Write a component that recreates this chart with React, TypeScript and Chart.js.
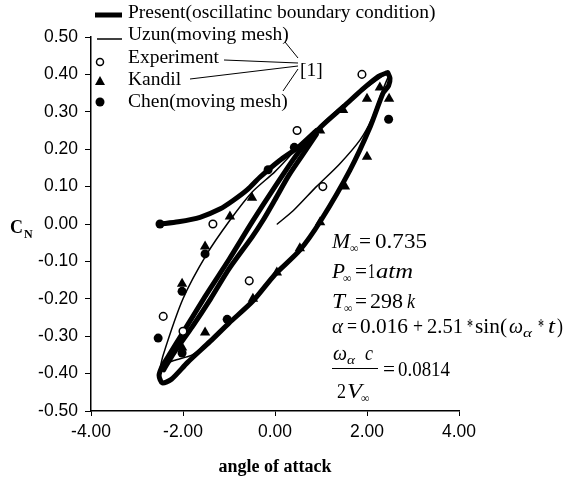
import React, { useEffect, useRef } from 'react';
import { Chart, registerables } from 'chart.js';

Chart.register(...registerables);

// ---- axis ranges / ticks ----
const xMin = -4;
const xMax = 4;
const xStep = 2;
const yMin = -0.5;
const yMax = 0.5;
const yStep = 0.1;

// ---- Present (oscillating boundary condition): thick black curves ----
const presentTransientX = [-2.5, -2.1, -1.63, -1.2, -0.91, -0.6, -0.33, 0.1, 0.5, 0.9];
const presentTransientY = [0.0, 0.006, 0.018, 0.04, 0.063, 0.092, 0.125, 0.17, 0.205, 0.25];

const presentLoopX = [2.45, 2.5, 2.47, 2.35, 2.07, 1.63, 1.0, 0.54, 0.0, -0.48, -1.0, -1.41, -1.9, -2.25, -2.45, -2.52, -2.45, -2.3, -2.0, -1.5, -1.0, -0.5, 0.0, 0.5, 1.0, 1.5, 1.9, 2.25, 2.45];
const presentLoopY = [0.405, 0.39, 0.37, 0.35, 0.26, 0.144, 0.01, -0.07, -0.135, -0.206, -0.265, -0.314, -0.37, -0.415, -0.425, -0.405, -0.38, -0.35, -0.29, -0.19, -0.095, 0.005, 0.1, 0.19, 0.26, 0.315, 0.36, 0.395, 0.405];

const presentInnerX = [-2.42, -2.2, -1.8, -1.4, -1.0, -0.5, -0.26, 0.0, 0.3, 0.6, 0.9];
const presentInnerY = [-0.39, -0.345, -0.275, -0.2, -0.12, -0.035, 0.01, 0.065, 0.13, 0.185, 0.24];

// ---- Uzun (moving mesh): thin black line ----
const uzunX = [0.05, 0.4, 0.9, 1.4, 1.85, 2.1, 2.3, 2.45, 2.5, 2.4, 2.0, 1.5, 1.0, 0.5, 0.0, -0.5, -0.98, -1.48, -2.0, -2.43, -2.52, -2.45, -2.2, -1.8, -1.4];
const uzunY = [0.0, 0.036, 0.1, 0.16, 0.225, 0.28, 0.345, 0.39, 0.4, 0.4, 0.365, 0.32, 0.265, 0.205, 0.14, 0.085, 0.01, -0.08, -0.2, -0.35, -0.4, -0.38, -0.365, -0.35, -0.31];

// ---- Experiment (open circles) ----
const expX = [1.89, 0.48, 1.04, -1.35, -0.56, -2.43, -2.0];
const expY = [0.4, 0.25, 0.1, 0.0, -0.152, -0.247, -0.287];

// ---- Kandil (filled triangles) ----
const kandilX = [-2.02, -1.52, -0.98, -0.5, 0.98, 1.48, 2.0, 2.28, 2.48, 2.0, 1.52, 0.98, 0.54, 0.04, -0.48, -1.52, -2.02];
const kandilY = [-0.16, -0.06, 0.02, 0.07, 0.25, 0.305, 0.335, 0.365, 0.335, 0.18, 0.1, 0.005, -0.065, -0.13, -0.2, -0.29, -0.33];

// ---- Chen (moving mesh): filled circles ----
const chenX = [-2.5, -2.02, -1.52, -0.15, 0.42, 2.47, -1.04, -2.54, -2.02];
const chenY = [0.0, -0.18, -0.08, 0.145, 0.205, 0.28, -0.255, -0.305, -0.345];

const SERIF = '"Liberation Serif", "Times New Roman", serif';
const SANS = '"Liberation Sans", Arial, sans-serif';

const pts = (xs: number[], ys: number[]) => xs.map((x, i) => ({ x, y: ys[i] }));

// [left, text, style, right?]
type Part = [number, string, string, number?];

function drawParts(ctx: CanvasRenderingContext2D, y: number, parts: Part[]) {
  for (const [x, t, s, x1] of parts) {
    let size = 20;
    let dy = 0;
    let italic = false;
    if (s === 'i') italic = true;
    if (s === 's') { size = 12; dy = 4; }
    if (s === 'si') { size = 13; dy = 4; italic = true; }
    ctx.font = `${italic ? 'italic ' : ''}${size}px ${SERIF}`;
    if (x1 !== undefined) {
      const w = ctx.measureText(t).width;
      const sx = (x1 - x) / w;
      ctx.save();
      ctx.translate(x, y + dy);
      ctx.scale(sx, 1);
      ctx.fillText(t, 0, 0);
      ctx.restore();
    } else {
      ctx.fillText(t, x, y + dy);
    }
  }
}

const annotations = {
  id: 'annotations',
  afterDraw(chart: any) {
    const ctx: CanvasRenderingContext2D = chart.ctx;
    ctx.save();
    ctx.fillStyle = '#000';
    ctx.strokeStyle = '#000';
    ctx.textAlign = 'left';
    ctx.textBaseline = 'alphabetic';

    // legend symbols
    ctx.lineWidth = 5;
    ctx.beginPath(); ctx.moveTo(95, 15); ctx.lineTo(122, 15); ctx.stroke();
    ctx.lineWidth = 1.5;
    ctx.beginPath(); ctx.moveTo(97, 39); ctx.lineTo(122, 39); ctx.stroke();
    ctx.fillStyle = '#fff';
    ctx.beginPath(); ctx.arc(100, 62, 3.5, 0, Math.PI * 2); ctx.fill(); ctx.stroke();
    ctx.fillStyle = '#000';
    ctx.beginPath(); ctx.moveTo(100, 76); ctx.lineTo(105, 85); ctx.lineTo(95, 85); ctx.closePath(); ctx.fill();
    ctx.beginPath(); ctx.arc(100, 102, 4.5, 0, Math.PI * 2); ctx.fill();

    // legend texts
    ctx.font = `19.5px ${SERIF}`;
    ctx.fillText('Present(oscillatinc boundary condition)', 128, 18);
    ctx.fillText('Uzun(moving mesh)', 128, 40);
    ctx.fillText('Experiment', 128, 63);
    ctx.fillText('Kandil', 128, 85);
    ctx.fillText('Chen(moving mesh)', 128, 107);
    ctx.fillText('[1]', 300, 76);

    // connector lines to [1]
    ctx.lineWidth = 1;
    const seg = (a: number, b: number, c: number, d: number) => { ctx.beginPath(); ctx.moveTo(a, b); ctx.lineTo(c, d); ctx.stroke(); };
    seg(285, 42, 298, 58);
    seg(224, 60, 298, 63);
    seg(190, 79, 298, 66);
    seg(283, 91, 298, 69);

    // formula block
    drawParts(ctx, 248, [[332, 'M', 'i', 350], [350, '\u221E', 's'], [359, '=', 'r', 371], [375, '0.735', 'r', 427]]);
    drawParts(ctx, 278, [[332, 'P', 'i', 345], [343, '\u221E', 's'], [355, '=', 'r', 367], [368, '1', 'r', 375], [376, 'atm', 'i', 413]]);
    drawParts(ctx, 308, [[332, 'T', 'i', 345], [344, '\u221E', 's'], [355, '=', 'r', 367], [370, '298', 'r', 403], [407, 'k', 'i', 415]]);
    drawParts(ctx, 333, [
      [332, '\u03B1', 'i', 343], [347, '=', 'r', 357], [360, '0.016', 'r', 408], [413, '+', 'r', 423],
      [427, '2.51', 'r', 463], [467, '*', 'r', 473], [475, 'sin(', 'r', 507], [509, '\u03C9', 'i', 523],
      [523, '\u03B1', 'si', 532], [538, '*', 'r', 544], [548, 't', 'i', 555], [557, ')', 'r', 563],
    ]);
    drawParts(ctx, 360, [[333, '\u03C9', 'i', 347], [347, '\u03B1', 'si', 355], [365, 'c', 'i', 373]]);
    ctx.lineWidth = 1;
    seg(332, 368.5, 378, 368.5);
    drawParts(ctx, 376, [[383, '=', 'r', 395], [398, '0.0814', 'r', 450]]);
    drawParts(ctx, 398, [[337, '2', 'r', 346], [347, 'V', 'i', 362], [361, '\u221E', 's']]);

    // axis titles
    ctx.font = `bold 18px ${SERIF}`;
    ctx.fillText('C', 10, 233);
    ctx.font = `bold 12px ${SERIF}`;
    ctx.fillText('N', 24, 238);
    ctx.font = `bold 18px ${SERIF}`;
    ctx.textAlign = 'center';
    ctx.fillText('angle of attack', 275, 472);
    ctx.restore();
  },
};

export default function App() {
  const ref = useRef<HTMLCanvasElement>(null);
  useEffect(() => {
    if (!ref.current) return;
    const lineDs = (label: string, xs: number[], ys: number[], w: number, order: number) => ({
      label,
      type: 'line' as const,
      data: pts(xs, ys),
      borderColor: '#000',
      borderWidth: w,
      pointRadius: 0,
      tension: 0.25,
      fill: false,
      borderJoinStyle: 'round' as const,
      borderCapStyle: 'round' as const,
      order,
    });
    const chart = new Chart(ref.current, {
      type: 'scatter',
      data: {
        datasets: [
          {
            label: 'Experiment',
            data: pts(expX, expY),
            pointStyle: 'circle',
            pointRadius: 3.8,
            pointBackgroundColor: '#fff',
            pointBorderColor: '#000',
            pointBorderWidth: 1.5,
            order: 0,
          },
          {
            label: 'Kandil',
            data: pts(kandilX, kandilY),
            pointStyle: 'triangle',
            pointRadius: 6,
            pointBackgroundColor: '#000',
            pointBorderColor: '#000',
            pointBorderWidth: 0,
            order: 1,
          },
          {
            label: 'Chen(moving mesh)',
            data: pts(chenX, chenY),
            pointStyle: 'circle',
            pointRadius: 4.5,
            pointBackgroundColor: '#000',
            pointBorderColor: '#000',
            pointBorderWidth: 0,
            order: 2,
          },
          lineDs('Uzun(moving mesh)', uzunX, uzunY, 1.5, 3) as any,
          lineDs('Present', presentTransientX, presentTransientY, 5, 4) as any,
          lineDs('Present loop', presentLoopX, presentLoopY, 5, 5) as any,
          lineDs('Present inner', presentInnerX, presentInnerY, 5, 6) as any,
        ],
      },
      options: {
        responsive: false,
        animation: false,
        devicePixelRatio: 1,
        layout: { padding: { top: 37, right: 106, bottom: 0, left: 0 } },
        plugins: { legend: { display: false }, tooltip: { enabled: false } },
        scales: {
          x: {
            type: 'linear',
            min: xMin,
            max: xMax,
            ticks: {
              stepSize: xStep,
              color: '#000',
              font: { family: SANS, size: 17.5 },
              padding: 6,
              callback: (v: any) => Number(v).toFixed(2),
            },
            grid: { display: true, drawOnChartArea: false, drawTicks: true, tickLength: 5, color: '#000' },
            border: { display: true, color: '#000', width: 1.5 },
            afterFit: (s: any) => { s.height = 479 - 411; },
          },
          y: {
            type: 'linear',
            min: yMin,
            max: yMax,
            ticks: {
              stepSize: yStep,
              color: '#000',
              font: { family: SANS, size: 17.5 },
              padding: 7,
              callback: (v: any) => Number(v).toFixed(2),
            },
            grid: { display: true, drawOnChartArea: false, drawTicks: true, tickLength: 6, color: '#000' },
            border: { display: true, color: '#000', width: 1.5 },
            afterFit: (s: any) => { s.width = 91; },
          },
        },
      },
      plugins: [annotations],
    });
    return () => chart.destroy();
  }, []);
  return (
    <div style={{ position: 'absolute', left: 0, top: 0, width: 565, height: 479, background: '#fff' }}>
      <canvas ref={ref} width={565} height={479} style={{ display: 'block' }} />
    </div>
  );
}
